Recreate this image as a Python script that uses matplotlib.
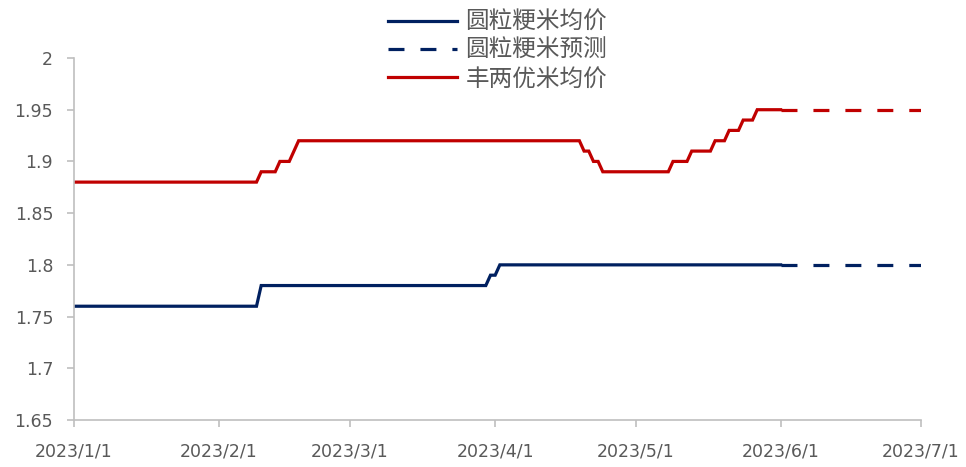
import matplotlib
matplotlib.use("Agg")
import matplotlib.pyplot as plt
import matplotlib.dates as mdates
import pandas as pd

# ---- data ----
blue_dates = ["2023-01-01", "2023-02-09", "2023-02-10", "2023-03-30", "2023-03-31",
              "2023-04-01", "2023-04-02", "2023-06-01"]
blue_vals = [1.76, 1.76, 1.78, 1.78, 1.79, 1.79, 1.80, 1.80]

blue_fc_dates = ["2023-06-01", "2023-07-01"]
blue_fc_vals = [1.80, 1.80]

red_dates = ["2023-01-01", "2023-02-09", "2023-02-10", "2023-02-13", "2023-02-14",
             "2023-02-16", "2023-02-18", "2023-04-19", "2023-04-20", "2023-04-21",
             "2023-04-22", "2023-04-23", "2023-04-24", "2023-05-08", "2023-05-09",
             "2023-05-12", "2023-05-13", "2023-05-17", "2023-05-18", "2023-05-20",
             "2023-05-21", "2023-05-23", "2023-05-24", "2023-05-26", "2023-05-27",
             "2023-06-01"]
red_vals = [1.88, 1.88, 1.89, 1.89, 1.90,
            1.90, 1.92, 1.92, 1.91, 1.91,
            1.90, 1.90, 1.89, 1.89, 1.90,
            1.90, 1.91, 1.91, 1.92, 1.92,
            1.93, 1.93, 1.94, 1.94, 1.95,
            1.95]

red_fc_dates = ["2023-06-01", "2023-07-01"]
red_fc_vals = [1.95, 1.95]

labels = ["圆粒粳米均价", "圆粒粳米预测", "丰两优米均价"]
x_ticks = ["2023-01-01", "2023-02-01", "2023-03-01", "2023-04-01",
           "2023-05-01", "2023-06-01", "2023-07-01"]
y_ticks = [1.65, 1.7, 1.75, 1.8, 1.85, 1.9, 1.95, 2.0]

# ---- style ----
NAVY = "#002060"
RED = "#C00000"
GREY = "#595959"
SPINE = "#BFBFBF"
LW = 2.3

fig = plt.figure(figsize=(9.66, 4.67), dpi=100)
ax = fig.add_axes([74 / 966, 47 / 467, (921 - 74) / 966, (420 - 58) / 467])

to_dt = lambda s: pd.to_datetime(s)

l1, = ax.plot(to_dt(blue_dates), blue_vals, color=NAVY, lw=LW, label=labels[0],
              solid_joinstyle="miter")
l2, = ax.plot(to_dt(blue_fc_dates), blue_fc_vals, color=NAVY, lw=LW,
              linestyle=(0, (5, 5)), label=labels[1])
l3, = ax.plot(to_dt(red_dates), red_vals, color=RED, lw=LW, label=labels[2],
              solid_joinstyle="miter")
ax.plot(to_dt(red_fc_dates), red_fc_vals, color=RED, lw=LW, linestyle=(0, (5, 5)))

ax.set_xlim(to_dt(x_ticks[0]), to_dt(x_ticks[-1]))
ax.set_ylim(1.65, 2.0)
ax.set_xticks(to_dt(x_ticks))
ax.set_xticklabels([f"{d.year}/{d.month}/{d.day}" for d in to_dt(x_ticks)])
ax.set_yticks(y_ticks)
ax.set_yticklabels([f"{v:g}" for v in y_ticks])

for s in ["top", "right"]:
    ax.spines[s].set_visible(False)
for s in ["left", "bottom"]:
    ax.spines[s].set_color(SPINE)
    ax.spines[s].set_linewidth(1.2)
ax.tick_params(axis="both", colors=SPINE, labelcolor=GREY, labelsize=12.5,
               length=5, width=1.2)
ax.tick_params(axis="x", pad=11)
ax.tick_params(axis="y", pad=10)
for t in ax.get_xticklabels() + ax.get_yticklabels():
    t.set_family("DejaVu Sans")

leg = fig.legend(handles=[l1, l2, l3], loc="upper center",
                 bbox_to_anchor=(0.515, 1.012), frameon=False,
                 prop={"family": ["Noto Sans CJK SC", "DejaVu Sans"], "size": 17},
                 handlelength=2.95, handletextpad=0.35, labelspacing=0.22,
                 borderpad=0.2)
for t in leg.get_texts():
    t.set_color(GREY)

fig.savefig("out.png", dpi=100)
